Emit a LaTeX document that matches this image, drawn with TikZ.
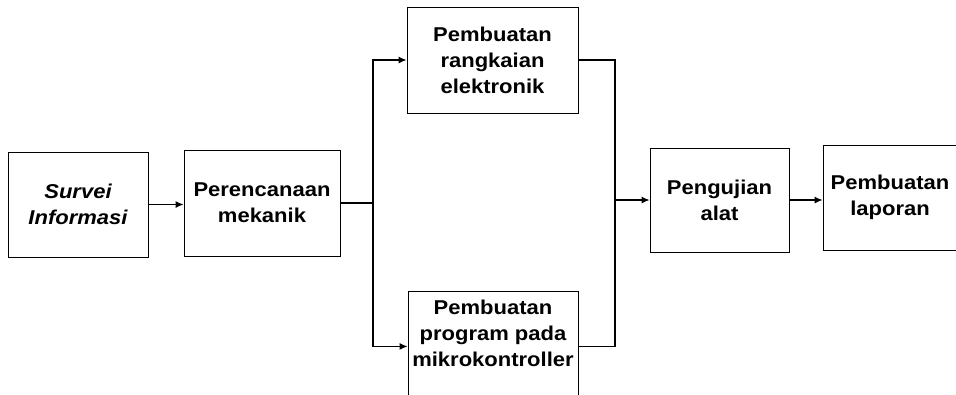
\documentclass[tikz,border=0pt]{standalone}
\usepackage{fontspec}
\setmainfont{Liberation Sans}[FakeStretch=1.1]
\usetikzlibrary{arrows.meta}
\tikzset{
  blok/.style={draw, line width=0.9pt, inner sep=0pt, align=center,
    font=\bfseries\fontsize{20}{26}\selectfont},
  tulisan/.style={inner sep=0pt, align=center,
    font=\bfseries\fontsize{20}{26}\selectfont},
  garis/.style={line width=1.1pt},
  panah/.style={garis, -{Latex[length=8pt,width=7pt]}}
}

\begin{document}
\begin{tikzpicture}[x=1pt,y=-1pt]
    \useasboundingbox (0,0) rectangle (956,394);
    % kotak-kotak
    \node[blok, minimum width=140pt, minimum height=105pt] (survei) at (78,204.5)
        {\itshape Survei\\\itshape Informasi};
    \node[blok, minimum width=156pt, minimum height=106pt] (rencana) at (262,203)
        {Perencanaan\\mekanik};
    \node[blok, minimum width=171pt, minimum height=106pt] (rangkaian) at (492.5,60)
        {Pembuatan\\rangkaian\\elektronik};
    \node[blok, minimum width=170pt, minimum height=110pt, anchor=north] (program) at (493,291) {};
    \node[tulisan] (programteks) at (493,333) {Pembuatan\\program pada\\mikrokontroller};
    \node[blok, minimum width=139pt, minimum height=104pt] (uji) at (719.5,200)
        {Pengujian\\alat};
    \node[blok, minimum width=134pt, minimum height=105pt] (laporan) at (890,197.5)
        {Pembuatan\\laporan};
    % titik cabang
    \coordinate (pisah) at (373,203);
    \coordinate (gabung) at (615,200);
    % panah
    \draw[panah] (survei.east) -- (rencana.west |- survei.east);
    \draw[garis] (rencana.east) -- (pisah);
    \draw[panah] (pisah) |- (rangkaian.west);
    \draw[panah] (pisah) |- (program.west);
    \draw[garis] (rangkaian.east) -| (gabung);
    \draw[garis] (program.east) -| (gabung);
    \draw[panah] (gabung) -- (uji.west);
    \draw[panah] (uji.east) -- (laporan.west |- uji.east);
\end{tikzpicture}
\end{document}
